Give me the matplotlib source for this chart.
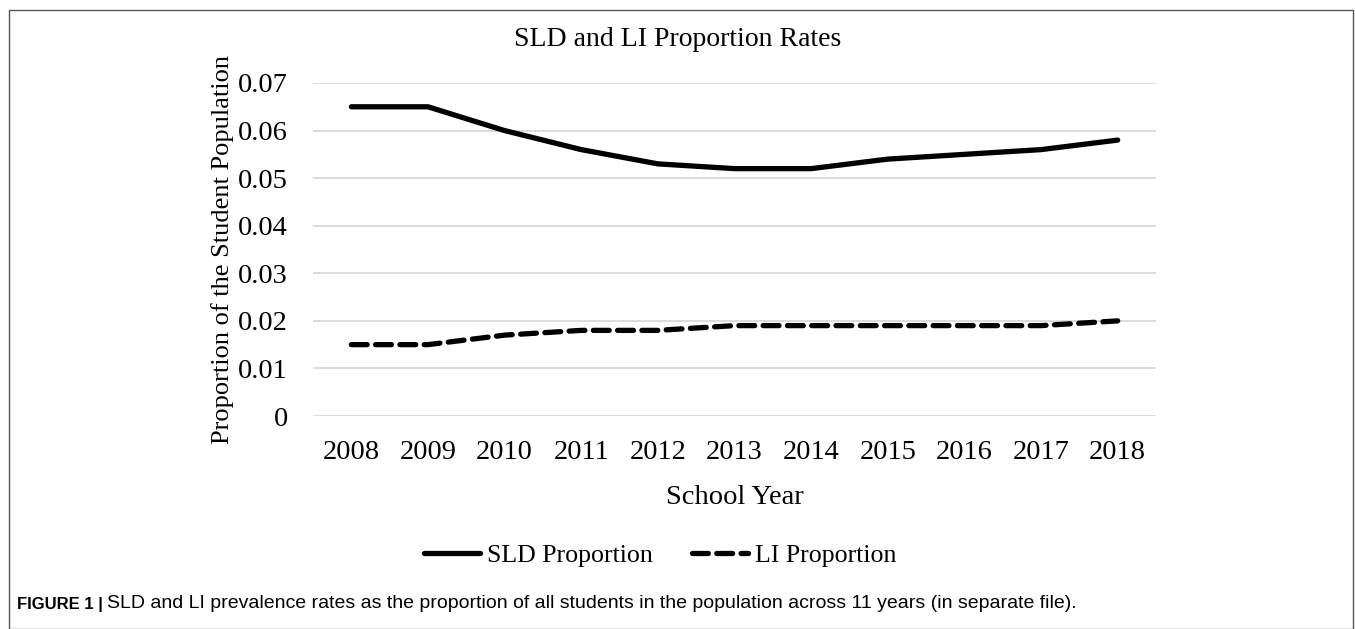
import matplotlib.pyplot as plt
from matplotlib.patches import Rectangle

years = ["2008", "2009", "2010", "2011", "2012", "2013", "2014", "2015", "2016", "2017", "2018"]
sld = [0.065, 0.065, 0.060, 0.056, 0.053, 0.052, 0.052, 0.054, 0.055, 0.056, 0.058]
li = [0.015, 0.015, 0.017, 0.018, 0.018, 0.019, 0.019, 0.019, 0.019, 0.019, 0.020]
yticks = [0, 0.01, 0.02, 0.03, 0.04, 0.05, 0.06, 0.07]
ytick_labels = ["0", "0.01", "0.02", "0.03", "0.04", "0.05", "0.06", "0.07"]

W, H = 1355, 629
fig = plt.figure(figsize=(W / 100, H / 100), dpi=100)
serif = "Liberation Serif"

# axes placement in pixels
left, right, top, bottom = 313, 1156, 83, 416
ax = fig.add_axes([left / W, 1 - bottom / H, (right - left) / W, (bottom - top) / H])

x = list(range(len(years)))
ax.plot(x, sld, color="black", lw=3.8, solid_capstyle="round", solid_joinstyle="round",
        label="SLD Proportion")
ax.plot(x, li, color="black", lw=3.8, linestyle=(0, (3.0, 1.6)), dash_capstyle="round",
        label="LI Proportion")

ax.set_xlim(-0.5, len(years) - 0.5)
ax.set_ylim(0, 0.07)
ax.set_yticks(yticks)
ax.set_yticklabels(ytick_labels, fontfamily=serif, fontsize=20.5)
ax.set_xticks(x)
ax.set_xticklabels(years, fontfamily=serif, fontsize=20.5)
ax.tick_params(length=0)
ax.tick_params(axis="x", pad=17)
ax.tick_params(axis="y", pad=18)
ax.grid(axis="y", color="#d9d9d9", lw=1.3)
ax.set_axisbelow(True)
for s in ax.spines.values():
    s.set_visible(False)

ax.set_xlabel("School Year", fontfamily=serif, fontsize=20.5, labelpad=15)
ax.set_ylabel("Proportion of the Student Population", fontfamily=serif, fontsize=19, labelpad=3)

fig.text(678 / W, 1 - 39 / H, "SLD and LI Proportion Rates", ha="center", va="center",
         fontfamily=serif, fontsize=20)

leg = fig.legend(loc="center", bbox_to_anchor=(660 / W, 1 - 555 / H), ncol=2, frameon=False,
                 prop={"family": serif, "size": 18.6}, handlelength=2.2, handletextpad=0.25,
                 columnspacing=1.5)

# outer frame
fig.patches.append(Rectangle((9 / W, 0), (1353 - 9) / W, 1 - 10 / H, transform=fig.transFigure,
                             fill=False, edgecolor="#555555", lw=1.0))

# caption: bold label, then the text placed right after it
lab = fig.text(17 / W, 1 - 604 / H, "FIGURE 1 |", ha="left", va="center",
               fontfamily="Liberation Sans", fontsize=12, fontweight="bold")
fig.canvas.draw()
bb = lab.get_window_extent()
fig.text((bb.x1 + 4) / W, 1 - 604 / H,
         "SLD and LI prevalence rates as the proportion of all students in the population across 11 years (in separate file).",
         ha="left", va="center", fontfamily="Liberation Sans", fontsize=14)

fig.savefig("out.png", dpi=100)
